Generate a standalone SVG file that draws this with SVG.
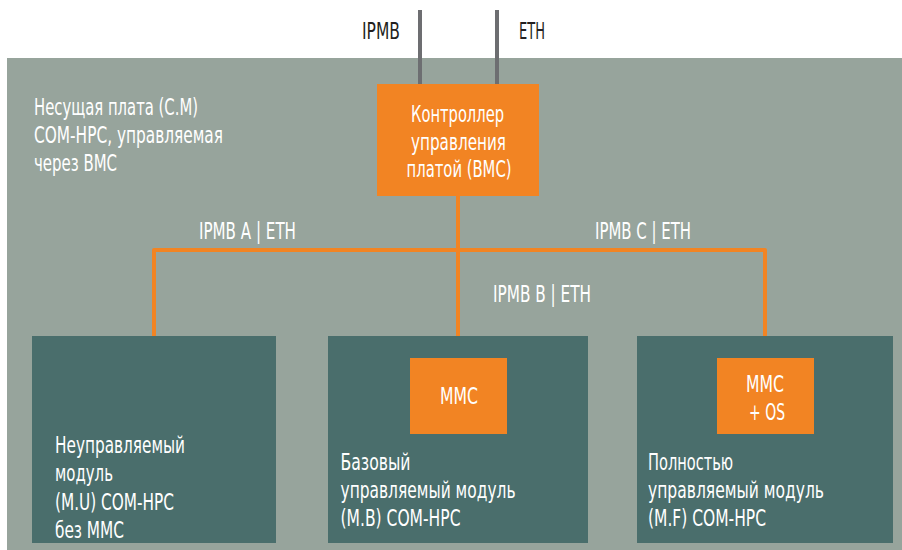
<svg xmlns="http://www.w3.org/2000/svg" width="902" height="550" viewBox="0 0 902 550">
  <style>
    text { font-family: "Liberation Sans Narrow", "DejaVu Sans Condensed", "Liberation Sans", Arial, sans-serif; font-size: 23.5px; fill: #ffffff; }
    .dark { fill: #231f20; }
    .board { fill: #97a49c; }
    .module { fill: #4a6e6c; }
    .chip { fill: #f28423; }
    .bus { fill: none; stroke: #f28423; stroke-width: 4; stroke-linejoin: round; }
    .ext { fill: none; stroke: #6d6e71; stroke-width: 4; }
  </style>
  <rect width="902" height="550" fill="#ffffff"/>

  <g id="carrier">
    <rect class="board" x="7" y="58" width="895" height="492"/>
    <text x="34" y="115" textLength="164" lengthAdjust="spacingAndGlyphs">Несущая плата (С.М)</text>
    <text x="34" y="142.5" textLength="189" lengthAdjust="spacingAndGlyphs">COM-HPC, управляемая</text>
    <text x="34" y="170.5" textLength="83" lengthAdjust="spacingAndGlyphs">через BMC</text>
  </g>

  <g id="connectors">
    <path class="ext" d="M420 10 V86"/>
    <path class="ext" d="M497 10 V86"/>
    <path class="bus" d="M458 190 V360"/>
    <path class="bus" d="M154 338 V250 H765 V360"/>
  </g>

  <g id="ext-labels">
    <text class="dark" x="362" y="39" textLength="38" lengthAdjust="spacingAndGlyphs">IPMB</text>
    <text class="dark" x="519" y="39" textLength="26" lengthAdjust="spacingAndGlyphs">ETH</text>
  </g>

  <g id="bus-labels">
    <text x="199" y="238.5" textLength="97" lengthAdjust="spacingAndGlyphs">IPMB A | ETH</text>
    <text x="595" y="238.5" textLength="96" lengthAdjust="spacingAndGlyphs">IPMB C | ETH</text>
    <text x="493" y="302" textLength="98" lengthAdjust="spacingAndGlyphs">IPMB B | ETH</text>
  </g>

  <g id="bmc">
    <rect class="chip" x="377" y="84" width="162" height="112"/>
    <text x="411" y="122" textLength="93" lengthAdjust="spacingAndGlyphs">Контроллер</text>
    <text x="411" y="149.5" textLength="95" lengthAdjust="spacingAndGlyphs">управления</text>
    <text x="406.5" y="176.5" textLength="105" lengthAdjust="spacingAndGlyphs">платой (BMC)</text>
  </g>

  <g id="module-u">
    <rect class="module" x="32" y="336" width="244" height="207"/>
    <text x="55" y="452.5" textLength="130" lengthAdjust="spacingAndGlyphs">Неуправляемый</text>
    <text x="55" y="481" textLength="58" lengthAdjust="spacingAndGlyphs">модуль</text>
    <text x="55" y="509.5" textLength="119" lengthAdjust="spacingAndGlyphs">(M.U) COM-HPC</text>
    <text x="55" y="538" textLength="69" lengthAdjust="spacingAndGlyphs">без MMC</text>
  </g>

  <g id="module-b">
    <rect class="module" x="328" y="336" width="260" height="207"/>
    <text x="340.5" y="470" textLength="70" lengthAdjust="spacingAndGlyphs">Базовый</text>
    <text x="340.5" y="498" textLength="175" lengthAdjust="spacingAndGlyphs">управляемый модуль</text>
    <text x="340.5" y="525.5" textLength="120" lengthAdjust="spacingAndGlyphs">(M.B) COM-HPC</text>
  </g>

  <g id="mmc-b">
    <rect class="chip" x="410" y="358" width="97" height="76"/>
    <text x="440" y="404" textLength="38" lengthAdjust="spacingAndGlyphs">MMC</text>
  </g>

  <g id="module-f">
    <rect class="module" x="637" y="336" width="256" height="207"/>
    <text x="648" y="470" textLength="85" lengthAdjust="spacingAndGlyphs">Полностью</text>
    <text x="648" y="498" textLength="176" lengthAdjust="spacingAndGlyphs">управляемый модуль</text>
    <text x="648" y="525.5" textLength="118" lengthAdjust="spacingAndGlyphs">(M.F) COM-HPC</text>
  </g>

  <g id="mmc-f">
    <rect class="chip" x="717" y="358" width="97" height="76"/>
    <text x="746" y="391.5" textLength="38" lengthAdjust="spacingAndGlyphs">MMC</text>
    <text x="749" y="420" textLength="36" lengthAdjust="spacingAndGlyphs">+ OS</text>
  </g>
</svg>
